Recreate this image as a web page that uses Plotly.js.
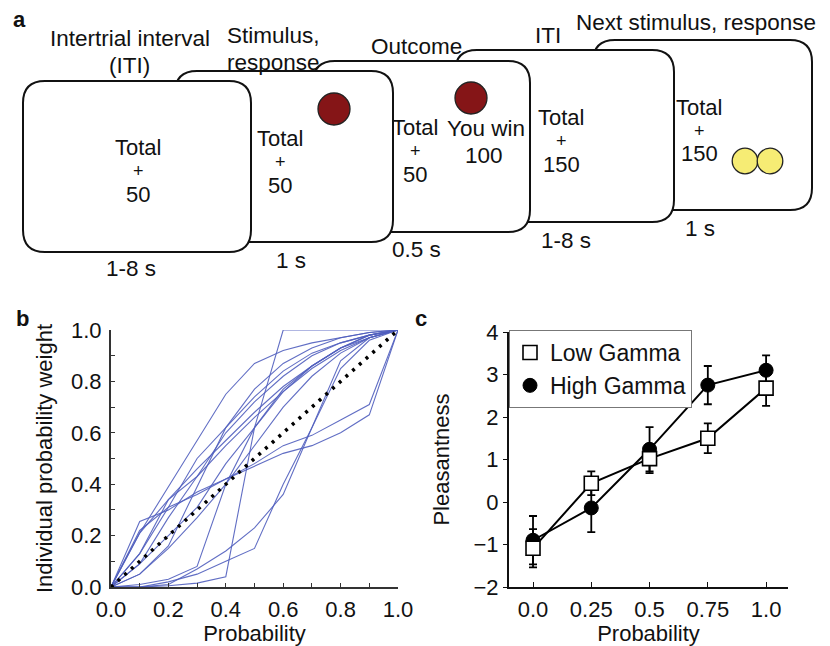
<!DOCTYPE html>
<html><head><meta charset="utf-8">
<script src="https://cdn.plot.ly/plotly-3.0.1.min.js"></script>
<style>html,body{margin:0;padding:0;background:#fff}#chart{width:830px;height:646px}</style>
</head><body><div id="chart"></div>
<script>
// ---------- Panel a: text content ----------
const stageTitleLines = [['Intertrial interval', '(ITI)'], ['Stimulus,', 'response'], ['Outcome'], ['ITI'], ['Next stimulus, response']];
const stageDurations = ['1-8 s', '1 s', '0.5 s', '1-8 s', '1 s'];
const stageTotals = ['50', '50', '50', '150', '150'];
const outcomeLines = ['You win', '100'];
const panelLetters = ['a', 'b', 'c'];

// ---------- Panel b: individual probability weighting ----------
const probGrid = [0, 0.1, 0.2, 0.3, 0.4, 0.5, 0.6, 0.7, 0.8, 0.9, 1.0];
const wA = [0, 0.21, 0.39, 0.57, 0.75, 0.87, 0.92, 0.95, 0.97, 0.99, 1];
const wB = [0, 0, 0.005, 0.015, 0.04, 0.62, 1, 1, 1, 1, 1];
const wC = [0, 0.255, 0.30, 0.37, 0.42, 0.47, 0.52, 0.55, 0.60, 0.67, 1];
const wD = [0, 0.22, 0.31, 0.36, 0.42, 0.48, 0.55, 0.59, 0.65, 0.71, 1];
const wE = [0, 0.13, 0.31, 0.50, 0.62, 0.74, 0.84, 0.91, 0.95, 0.98, 1];
const wF = [0, 0.21, 0.34, 0.43, 0.55, 0.66, 0.76, 0.85, 0.92, 0.97, 1];
const wG = [0, 0.09, 0.27, 0.43, 0.60, 0.72, 0.82, 0.90, 0.95, 0.98, 1];
const wH = [0, 0.05, 0.16, 0.39, 0.62, 0.77, 0.87, 0.93, 0.97, 0.99, 1];
const wI = [0, 0.13, 0.34, 0.46, 0.57, 0.68, 0.78, 0.86, 0.93, 0.97, 1];
const wJ = [0, 0.0, 0.01, 0.07, 0.14, 0.23, 0.36, 0.62, 0.88, 0.97, 1];
const wK = [0, 0.0, 0.02, 0.05, 0.10, 0.15, 0.40, 0.62, 0.85, 0.96, 1];
const wL = [0, 0.01, 0.03, 0.08, 0.40, 0.62, 0.77, 0.86, 0.93, 0.98, 1];
const wM = [0, 0.05, 0.15, 0.27, 0.40, 0.55, 0.70, 0.82, 0.91, 0.97, 1];
const wN = [0, 0.09, 0.20, 0.31, 0.48, 0.62, 0.76, 0.86, 0.93, 0.98, 1];
const identityLine = [0, 1];
const bTicks = [0, 0.2, 0.4, 0.6, 0.8, 1.0];

// ---------- Panel c: pleasantness ----------
const cProb = [0, 0.25, 0.5, 0.75, 1.0];
const cTickLabels = ['0.0', '0.25', '0.5', '0.75', '1.0'];
const lowGamma = [-1.09, 0.44, 1.02, 1.50, 2.68];
const lowGammaErr = [0.45, 0.28, 0.34, 0.35, 0.42];
const highGamma = [-0.90, -0.14, 1.24, 2.75, 3.10];
const highGammaErr = [0.57, 0.57, 0.52, 0.45, 0.35];

// ---------- helpers ----------
const W = 830, H = 646;
const FONT = 'Liberation Sans, Arial, Helvetica, sans-serif';
const px = x => x / W, py = y => 1 - y / H;

function roundRect(x0, y0, x1, y1, r) {
  const P = (x, y) => px(x) + ',' + py(y);
  return 'M' + P(x0 + r, y0) + ' L' + P(x1 - r, y0) + ' Q' + P(x1, y0) + ' ' + P(x1, y0 + r) +
    ' L' + P(x1, y1 - r) + ' Q' + P(x1, y1) + ' ' + P(x1 - r, y1) +
    ' L' + P(x0 + r, y1) + ' Q' + P(x0, y1) + ' ' + P(x0, y1 - r) +
    ' L' + P(x0, y0 + r) + ' Q' + P(x0, y0) + ' ' + P(x0 + r, y0) + ' Z';
}
function boxShape(x0, y0, x1, y1) {
  return {type: 'path', xref: 'paper', yref: 'paper', path: roundRect(x0, y0, x1, y1, 22),
    fillcolor: '#ffffff', line: {color: '#111', width: 2}, layer: 'above'};
}
function circleShape(cx, cy, r, fill) {
  return {type: 'circle', xref: 'paper', yref: 'paper', x0: px(cx - r), x1: px(cx + r), y0: py(cy + r), y1: py(cy - r),
    fillcolor: fill, line: {color: '#222', width: 1.3}, layer: 'above'};
}
function txt(text, x, y, size) {
  return {text: text, xref: 'paper', yref: 'paper', x: px(x), y: py(y), xanchor: 'center', yanchor: 'middle',
    showarrow: false, font: {family: FONT, size: size || 22.5, color: '#111'}};
}

// ---------- traces ----------
const curves = [wA, wB, wC, wD, wE, wF, wG, wH, wI, wJ, wK, wL, wM, wN];
const traces = curves.map(w => ({
  x: probGrid, y: w, xaxis: 'x', yaxis: 'y', mode: 'lines', showlegend: false, hoverinfo: 'skip',
  line: {color: 'rgba(80,94,190,0.9)', width: 1.1}
}));
traces.push({x: identityLine, y: identityLine, xaxis: 'x', yaxis: 'y', mode: 'lines', showlegend: false,
  line: {color: '#000', width: 3.5, dash: '3px,6px'}});

// panel c: connecting lines
traces.push({x: cProb, y: highGamma, xaxis: 'x2', yaxis: 'y2', mode: 'lines', showlegend: false, line: {color: '#000', width: 2}});
traces.push({x: cProb, y: lowGamma, xaxis: 'x2', yaxis: 'y2', mode: 'lines', showlegend: false, line: {color: '#000', width: 2}});
// panel c: markers with error bars
traces.push({x: cProb, y: highGamma, xaxis: 'x2', yaxis: 'y2', mode: 'markers', name: 'High Gamma', legendrank: 2,
  error_y: {type: 'data', array: highGammaErr, visible: true, color: '#000', thickness: 1.8, width: 4},
  marker: {symbol: 'circle', size: 14, color: '#000', line: {color: '#000', width: 1}}});
traces.push({x: cProb, y: lowGamma, xaxis: 'x2', yaxis: 'y2', mode: 'markers', name: 'Low Gamma', legendrank: 1,
  error_y: {type: 'data', array: lowGammaErr, visible: true, color: '#000', thickness: 1.8, width: 4},
  marker: {symbol: 'square', size: 14, color: '#fff', line: {color: '#000', width: 1.6}}});

// ---------- panel a shapes & texts ----------
const shapes = [
  boxShape(593, 40, 812, 210),
  circleShape(745, 161, 12.8, '#f6ec74'),
  circleShape(770, 161, 12.8, '#f6ec74'),
  boxShape(455, 50, 674, 222),
  boxShape(313, 61, 530, 232),
  circleShape(471, 98, 16, '#851517'),
  boxShape(175, 71, 393, 242),
  circleShape(334, 109, 16, '#851517'),
  boxShape(23, 81, 251, 252)
];

const titlePos = [[[130, 38], [129, 66]], [[273, 36], [273, 62]], [[417, 47]], [[548, 36]], [[696, 23]]];
const durPos = [[131, 269], [291, 260], [417, 249], [566, 240], [700, 228]];
const stackCenter = [[138, 171], [280, 162], [415, 150.5], [561, 141], [699, 130.5]];
const annotations = [];
stageTitleLines.forEach((lines, i) => lines.forEach((t, j) => annotations.push(txt(t, titlePos[i][j][0], titlePos[i][j][1]))));
stageDurations.forEach((t, i) => annotations.push(txt(t, durPos[i][0], durPos[i][1])));
stageTotals.forEach((t, i) => {
  const [x, y] = stackCenter[i];
  annotations.push(txt('Total', x, y - 23.5, 22));
  annotations.push(txt('+', x, y, 18));
  annotations.push(txt(t, x, y + 23.5, 22));
});
annotations.push(txt(outcomeLines[0], 486, 129));
annotations.push(txt(outcomeLines[1], 484, 155));
const letterPos = [[19, 19], [22, 318], [421, 318]];
panelLetters.forEach((l, i) => annotations.push(txt('<b>' + l + '</b>', letterPos[i][0], letterPos[i][1], 22)));

const axisFont = {family: FONT, size: 22, color: '#111'};
const layout = {
  width: W, height: H, margin: {l: 0, r: 0, t: 0, b: 0},
  paper_bgcolor: '#fff', plot_bgcolor: 'rgba(0,0,0,0)',
  font: {family: FONT, size: 22, color: '#111'},
  showlegend: true,
  legend: {x: px(509), y: py(330), xanchor: 'left', yanchor: 'top', bgcolor: '#fff', bordercolor: '#777', borderwidth: 1,
    font: {family: FONT, size: 23, color: '#111'}, tracegroupgap: 0, itemwidth: 30},
  xaxis: {domain: [px(111), px(398)], range: [0, 1], anchor: 'y', showgrid: false, zeroline: false,
    showline: true, linecolor: '#333', linewidth: 2, ticks: 'inside', ticklen: 4, tickcolor: '#333', tickwidth: 1,
    tickvals: bTicks, tickformat: '.1f', tickfont: axisFont, ticklabelstandoff: 2,
    minor: {dtick: 0.1, ticks: 'inside', ticklen: 4, tickcolor: '#333', showgrid: false},
    title: {text: 'Probability', font: axisFont, standoff: 6}},
  yaxis: {domain: [py(587), py(330)], range: [0, 1], anchor: 'x', showgrid: false, zeroline: false,
    showline: true, linecolor: '#333', linewidth: 2, ticks: 'inside', ticklen: 4, tickcolor: '#333', tickwidth: 1,
    tickvals: bTicks, tickformat: '.1f', tickfont: axisFont, ticklabelstandoff: 3,
    minor: {dtick: 0.1, ticks: 'inside', ticklen: 4, tickcolor: '#333', showgrid: false},
    title: {text: 'Individual probability weight', font: axisFont, standoff: 12}},
  xaxis2: {domain: [px(509), px(788)], range: [-0.103, 1.094], anchor: 'y2', showgrid: false, zeroline: false,
    showline: true, linecolor: '#111', linewidth: 2, ticks: 'inside', ticklen: 5, tickcolor: '#111',
    tickvals: cProb, ticktext: cTickLabels, tickfont: axisFont, ticklabelstandoff: 2,
    title: {text: 'Probability', font: axisFont, standoff: 6}},
  yaxis2: {domain: [py(587), py(332)], range: [-2, 4], anchor: 'x2', showgrid: false, zeroline: false,
    showline: true, linecolor: '#111', linewidth: 2, ticks: 'outside', ticklen: 4, tickcolor: '#111',
    dtick: 1, tickfont: axisFont,
    title: {text: 'Pleasantness', font: axisFont, standoff: 18}},
  shapes: shapes,
  annotations: annotations
};

Plotly.newPlot('chart', traces, layout, {displayModeBar: false, staticPlot: true});
</script>
</body></html>
